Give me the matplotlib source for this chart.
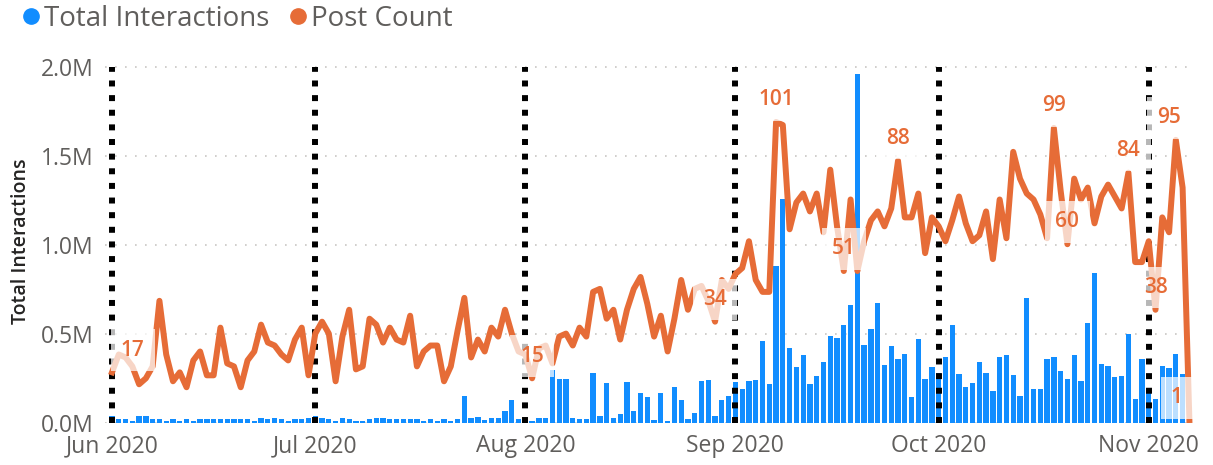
import pandas as pd
import matplotlib
matplotlib.use("Agg")
import matplotlib.pyplot as plt
from matplotlib.lines import Line2D
from matplotlib.ticker import FuncFormatter
import matplotlib.dates as mdates

plt.rcParams['font.family'] = ['Open Sans', 'DejaVu Sans']

# daily data, 1 Jun 2020 - 7 Nov 2020
dates = pd.date_range("2020-06-01", "2020-11-07", freq="D")

# total interactions (millions)
interactions_jun = [0.04, 0.02, 0.02, 0.01, 0.04, 0.04, 0.02, 0.02, 0.01, 0.02, 0.01, 0.02, 0.01, 0.02, 0.02,
                    0.02, 0.02, 0.02, 0.02, 0.02, 0.02, 0.01, 0.03, 0.02, 0.03, 0.02, 0.01, 0.02, 0.02, 0.03]
interactions_jul = [0.04, 0.03, 0.02, 0.01, 0.03, 0.02, 0.01, 0.01, 0.02, 0.03, 0.03, 0.02, 0.02, 0.02, 0.02,
                    0.02, 0.01, 0.02, 0.01, 0.02, 0.01, 0.02, 0.15, 0.03, 0.035, 0.015, 0.03, 0.03, 0.07, 0.13, 0.025]
interactions_aug = [0.015, 0.01, 0.03, 0.03, 0.30, 0.25, 0.245, 0.03, 0.02, 0.02, 0.28, 0.04, 0.225, 0.03, 0.05,
                    0.23, 0.07, 0.17, 0.145, 0.015, 0.17, 0.01, 0.2, 0.13, 0.02, 0.055, 0.235, 0.24, 0.04, 0.13, 0.15]
interactions_sep = [0.23, 0.19, 0.235, 0.24, 0.46, 0.22, 0.88, 1.26, 0.42, 0.315, 0.38, 0.22, 0.265, 0.345, 0.49,
                    0.48, 0.55, 0.665, 1.96, 0.44, 0.53, 0.675, 0.325, 0.43, 0.36, 0.39, 0.145, 0.47, 0.25, 0.315]
interactions_oct = [0.28, 0.37, 0.55, 0.275, 0.2, 0.225, 0.345, 0.28, 0.18, 0.37, 0.38, 0.27, 0.15, 0.70, 0.19,
                    0.19, 0.36, 0.37, 0.29, 0.25, 0.38, 0.235, 0.56, 0.845, 0.33, 0.32, 0.26, 0.265, 0.50, 0.135, 0.36]
interactions_nov = [0.195, 0.135, 0.32, 0.31, 0.39, 0.275, 0.0]

# post count per day
posts_jun = [17, 23, 22, 19, 13, 15, 19, 41, 23, 14, 17, 12, 21, 24, 16,
             16, 32, 20, 19, 12, 21, 24, 33, 27, 26, 23, 21, 28, 32, 16]
posts_jul = [30, 34, 30, 14, 29, 38, 18, 19, 35, 33, 27, 32, 28, 27, 36,
             19, 24, 26, 26, 14, 19, 31, 42, 22, 28, 24, 32, 29, 38, 30, 24]
posts_aug = [23, 15, 25, 26, 20, 29, 30, 26, 32, 29, 44, 45, 35, 38, 28,
             38, 45, 49, 40, 29, 36, 24, 35, 48, 38, 45, 46, 41, 34, 48, 45]
posts_sep = [50, 52, 61, 48, 44, 44, 101, 100, 65, 74, 77, 71, 77, 64, 85,
             66, 51, 75, 51, 61, 68, 71, 66, 72, 88, 69, 69, 77, 57, 69]
posts_oct = [66, 61, 68, 76, 67, 61, 63, 71, 55, 75, 62, 91, 82, 77, 75,
             70, 62, 99, 78, 60, 82, 75, 79, 67, 76, 80, 76, 72, 84, 54, 54]
posts_nov = [61, 38, 69, 64, 95, 79, 1]

interactions = interactions_jun + interactions_jul + interactions_aug + interactions_sep + interactions_oct + interactions_nov
posts = posts_jun + posts_jul + posts_aug + posts_sep + posts_oct + posts_nov

# days that carry a data label on the post count line
label_days = ["2020-06-01", "2020-08-02", "2020-08-29", "2020-09-07", "2020-09-17", "2020-09-25",
              "2020-10-18", "2020-10-20", "2020-10-29", "2020-11-02", "2020-11-05", "2020-11-07"]
label_shift = {"2020-06-01": 15, "2020-11-05": -5, "2020-11-07": -9}

month_starts = pd.date_range("2020-06-01", "2020-11-01", freq="MS")

BLUE = "#118DFF"
ORANGE = "#E66C37"
GREY = "#605E5C"

fig = plt.figure(figsize=(12.13, 4.65), dpi=100)
ax = fig.add_axes([105 / 1213, 42 / 465, 1090 / 1213, 363 / 465])
ax2 = ax.twinx()

vals = [v * 1e6 for v in interactions]
ax.bar(dates, vals, width=0.78, color=BLUE, zorder=2)

ax.set_ylim(0, 2.0e6 * 363 / 356)
ax.set_yticks([0, 0.5e6, 1.0e6, 1.5e6, 2.0e6])
ax.yaxis.set_major_formatter(FuncFormatter(lambda v, p: "%.1fM" % (v / 1e6)))
ax.grid(axis="y", color="#C8C6C4", linestyle=(0, (1, 5)), linewidth=1.2, zorder=0)
ax.set_axisbelow(True)

x0 = pd.Timestamp("2020-06-01")
ax.set_xlim(x0 - pd.Timedelta(days=7 / 6.776), x0 + pd.Timedelta(days=1083 / 6.776))
ax.xaxis.set_major_locator(mdates.MonthLocator())
ax.xaxis.set_major_formatter(mdates.DateFormatter("%b %Y"))

for a in (ax, ax2):
    for s in a.spines.values():
        s.set_visible(False)
ax.tick_params(axis="both", length=0, labelsize=16.5, colors=GREY)
ax.tick_params(axis="y", pad=8)
ax.tick_params(axis="x", pad=8)
ax.set_ylabel("Total Interactions", fontsize=14, color="#252423", fontweight="semibold", labelpad=7)

# second axis: post count
ax2.set_ylim(0, 363 / 2.98)
ax2.set_yticks([])
ax2.vlines(month_starts, 0, 119.5, colors="black", linewidth=4.3,
           linestyles=[(0, (1, 1.45))], zorder=2)
ax2.plot(dates, posts, color=ORANGE, linewidth=4.3, solid_joinstyle="round", zorder=3)

for d in label_days:
    i = dates.get_loc(pd.Timestamp(d))
    ax2.annotate(str(posts[i]), (dates[i], posts[i]), xytext=(label_shift.get(d, 0), 16),
                 textcoords="offset points", ha="center", va="center", fontsize=15,
                 fontweight="semibold", color=ORANGE, zorder=5,
                 bbox=dict(boxstyle="square,pad=0.5", facecolor="white", edgecolor="none", alpha=0.72))

handles = [Line2D([], [], marker="o", linestyle="", markersize=11, color=BLUE),
           Line2D([], [], marker="o", linestyle="", markersize=11, color=ORANGE)]
fig.legend(handles, ["Total Interactions", "Post Count"], loc="upper left", bbox_to_anchor=(0.0, 1.025),
           ncol=2, frameon=False, fontsize=20, labelcolor=GREY, handletextpad=0.0,
           columnspacing=0.5, borderaxespad=0.2, handlelength=1.0)

fig.savefig("out.png", dpi=100)
